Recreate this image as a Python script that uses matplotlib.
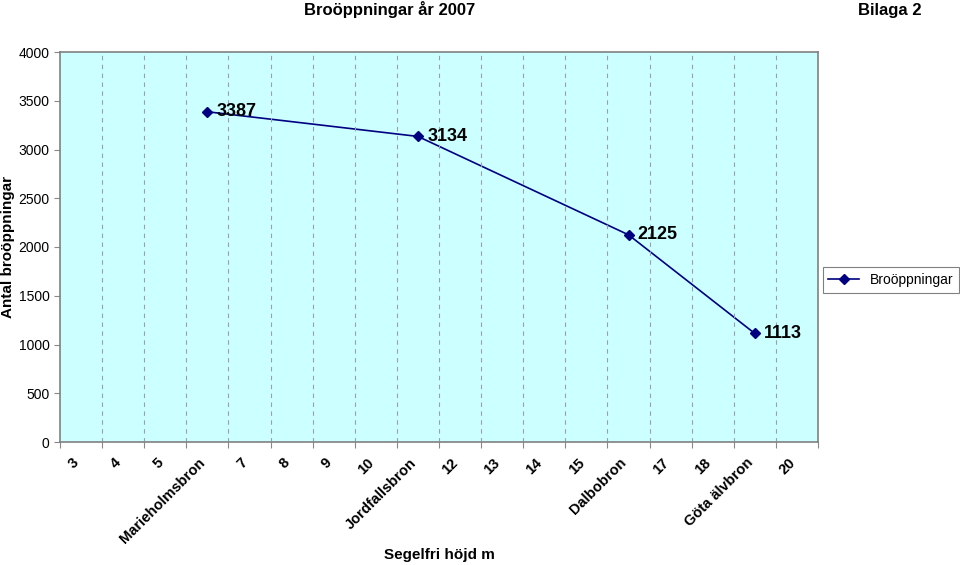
import numpy as np
import matplotlib
matplotlib.use("Agg")
import matplotlib.pyplot as plt
import matplotlib.transforms as mtransforms

plt.rcParams['font.family'] = ['Liberation Sans', 'DejaVu Sans']

categories = ['3', '4', '5', 'Marieholmsbron', '7', '8', '9', '10', 'Jordfallsbron',
              '12', '13', '14', '15', 'Dalbobron', '17', '18', 'Göta älvbron', '20']
bridges = ['Marieholmsbron', 'Jordfallsbron', 'Dalbobron', 'Göta älvbron']
openings = [3387, 3134, 2125, 1113]
yticks = [0, 500, 1000, 1500, 2000, 2500, 3000, 3500, 4000]

fig = plt.figure(figsize=(9.6, 5.65), dpi=100)
ax = fig.add_axes([60/960, 1 - 442/565, 758/960, 390/565])
ax.set_facecolor('#ccffff')

xs = [categories.index(b) + 0.5 for b in bridges]
ax.plot(xs, openings, color='#000080', lw=1.2, marker='D', ms=5, label='Broöppningar')
for x, v in zip(xs, openings):
    ax.text(x + 0.22, v, str(v), fontsize=13, fontweight='bold', va='center', ha='left')

ax.set_xlim(0, len(categories))
ax.set_ylim(0, 4000)
ax.set_yticks(yticks)
ax.set_yticklabels([str(t) for t in yticks], fontsize=10)

ax.set_xticks(np.arange(len(categories) + 1))
ax.set_xticklabels([])
for x in range(1, len(categories)):
    ax.axvline(x, color='#9aa0a8', lw=0.8, ls=(0, (4, 4)))
ax.set_xticks(np.arange(len(categories)) + 0.5, minor=True)
ax.set_xticklabels(categories, minor=True, rotation=45, ha='right', va='top',
                   rotation_mode='anchor', fontsize=10.5, fontweight='bold')
ax.tick_params(axis='x', which='minor', length=0, pad=12)
ax.tick_params(axis='x', which='major', length=4, color='#888888')
ax.tick_params(axis='y', length=4, color='#888888')
shift = mtransforms.ScaledTranslation(-9/100, 3/100, fig.dpi_scale_trans)
for lbl in ax.get_xticklabels(minor=True):
    lbl.set_transform(lbl.get_transform() + shift)

for s in ax.spines.values():
    s.set_color('#808080')
    s.set_linewidth(1.2)

fig.text(8/960, 1 - 247/565, 'Antal broöppningar', fontsize=11, fontweight='bold',
         rotation=90, ha='center', va='center')
fig.text(439/960, 1 - 555/565, 'Segelfri höjd m', fontsize=11, fontweight='bold',
         ha='center', va='center')
fig.text(390/960, 1 - 10/565, 'Broöppningar år 2007', fontsize=12, fontweight='bold',
         ha='center', va='center')
fig.text(890/960, 1 - 10/565, 'Bilaga 2', fontsize=12, fontweight='bold',
         ha='center', va='center')

leg = fig.legend(loc='center', bbox_to_anchor=(891/960, 1 - 280/565), fontsize=10,
                 fancybox=False, edgecolor='#808080', handlelength=2.2,
                 borderpad=0.4, framealpha=1)
leg.get_frame().set_linewidth(0.8)

fig.savefig('out.png', dpi=100)
